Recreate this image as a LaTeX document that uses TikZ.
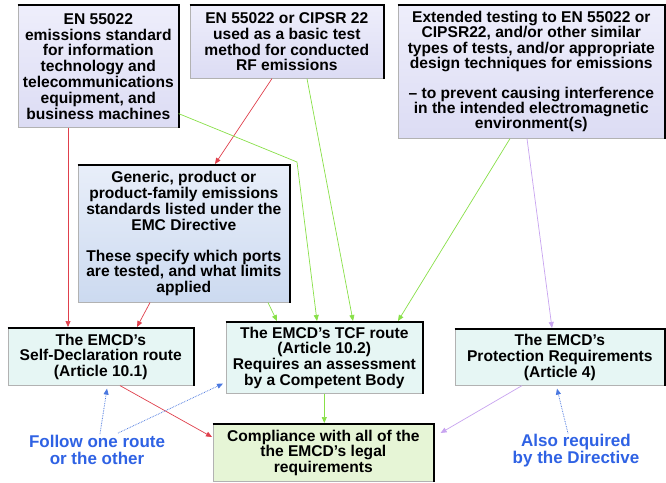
\documentclass[tikz,border=0pt]{standalone}
\usepackage{fontspec}
\setmainfont{Liberation Sans}
\usetikzlibrary{arrows.meta}
\definecolor{lavtop}{HTML}{EEEEFB}
\definecolor{lavbot}{HTML}{DCDCF4}
\definecolor{bluetop}{HTML}{E8EEF9}
\definecolor{bluebot}{HTML}{CCDAF0}
\definecolor{cyanfill}{HTML}{E6F6F4}
\definecolor{greenfill}{HTML}{E6F5D6}
\definecolor{redline}{HTML}{E0404C}
\definecolor{greenline}{HTML}{88E048}
\definecolor{purpleline}{HTML}{C8A4F0}
\definecolor{blueline}{HTML}{4A78E0}
\definecolor{bluetext}{HTML}{2F62E4}
\tikzset{
  box/.style={draw=gray!60, line width=0.6pt, anchor=north west, align=center, inner sep=0pt,
    font=\bfseries\fontsize{15.6}{15.8}\selectfont},
  lavbox/.style={box, top color=lavtop, bottom color=lavbot},
  bluebox/.style={box, top color=bluetop, bottom color=bluebot},
  cyanbox/.style={box, fill=cyanfill},
  greenbox/.style={box, fill=greenfill},
  note/.style={align=center, inner sep=0pt, text=bluetext, font=\bfseries\fontsize{17}{17}\selectfont},
  conn/.style={line width=0.7pt, -{Triangle[length=6pt,width=5pt]}},
  redc/.style={conn, draw=redline, -{Triangle[length=6pt,width=5pt,fill=redline]}},
  greenc/.style={conn, draw=greenline},
  purplec/.style={conn, draw=purpleline},
  bluec/.style={conn, draw=blueline, densely dotted, line width=0.8pt},
}
\begin{document}
\begin{tikzpicture}[x=1pt,y=-1pt]
\path[use as bounding box, fill=white] (0,0) rectangle (666,482);

\node[lavbox, minimum width=160pt, minimum height=122pt] (A) at (18,5)
 {EN 55022\\emissions standard\\for information\\technology and\\telecommunications\\equipment, and\\business machines};
\node[lavbox, minimum width=193pt, minimum height=73pt] (B) at (190,5)
 {EN 55022 or CIPSR 22\\used as a basic test\\method for conducted\\RF emissions};
\node[lavbox, minimum width=266pt, minimum height=133pt, font=\bfseries\fontsize{15.6}{15.2}\selectfont] (C) at (398,5)
 {Extended testing to EN 55022 or\\CIPSR22, and/or other similar\\types of tests, and/or appropriate\\design techniques for emissions\\[15pt]– to prevent causing interference\\in the intended electromagnetic\\environment(s)};
\node[bluebox, minimum width=211pt, minimum height=137pt] (D) at (78,165)
 {Generic, product or\\product-family emissions\\standards listed under the\\EMC Directive\\[15pt]These specify which ports\\are tested, and what limits\\applied};
\node[cyanbox, minimum width=185pt, minimum height=57pt] (E) at (8,328)
 {The EMCD’s\\Self-Declaration route\\(Article 10.1)};
\node[cyanbox, minimum width=196pt, minimum height=71pt] (F) at (226,322)
 {The EMCD’s TCF route\\(Article 10.2)\\Requires an assessment\\by a Competent Body};
\node[greenbox, minimum width=220pt, minimum height=57pt] (G) at (213,424)
 {Compliance with all of the\\the EMCD’s legal\\requirements};
\node[cyanbox, minimum width=209pt, minimum height=56pt] (H) at (455,329)
 {The EMCD’s\\Protection Requirements\\(Article 4)};

\foreach \n in {A,B,C,D,E,F,G,H}{
  \draw[line width=2.6pt] ([xshift=-0.3pt]\n.north west) -- ([xshift=0.9pt]\n.north east);
  \draw[line width=1.8pt] (\n.north east) -- ([yshift=-0.3pt]\n.south east);
}

\node[note] (L1) at (97,450) {Follow one route\\or the other};
\node[note] (L2) at (576,451) {Also required\\by the Directive};

\coordinate (ga) at (297,162);

% red connectors
\draw[redc] ([xshift=50pt]A.south west) -- ([xshift=60pt,yshift=1pt]E.north west);
\draw[redc] ([xshift=82pt]B.south west) -- ([xshift=137pt,yshift=1pt]D.north west);
\draw[redc] ([xshift=72pt]D.south west) -- ([xshift=129pt,yshift=1pt]E.north west);
\draw[redc] ([xshift=112pt]E.south west) -- ([xshift=-1pt,yshift=-13pt]G.north west);

% green connectors
\draw[greenc] ([yshift=14pt]A.south east) -- (ga) -- ([xshift=91pt,yshift=1pt]F.north west);
\draw[greenc] ([xshift=117pt]B.south west) -- ([xshift=127pt,yshift=1pt]F.north west);
\draw[greenc] ([xshift=112pt]C.south west) -- ([xshift=172pt,yshift=1pt]F.north west);
\draw[greenc] ([xshift=190pt]D.south west) -- ([xshift=51pt,yshift=1pt]F.north west);
\draw[greenc] (F.south) -- ([yshift=1pt]F.south |- G.north);

% purple connectors
\draw[purplec] ([xshift=129pt]C.south west) -- ([xshift=97pt,yshift=1pt]H.north west);
\draw[purplec] ([xshift=67pt]H.south west) -- ([xshift=7pt,yshift=-9pt]G.north east);

% blue dotted
\draw[bluec] ([xshift=3pt,yshift=1pt]L1.north) -- ([xshift=99pt,yshift=-3pt]E.south west);
\draw[bluec] ([xshift=21pt,yshift=2pt]L1.north) -- ([xshift=-3pt,yshift=10pt]F.south west);
\draw[bluec] ([xshift=-8pt,yshift=1pt]L2.north) -- ([xshift=102pt,yshift=-3pt]H.south west);
\end{tikzpicture}
\end{document}
